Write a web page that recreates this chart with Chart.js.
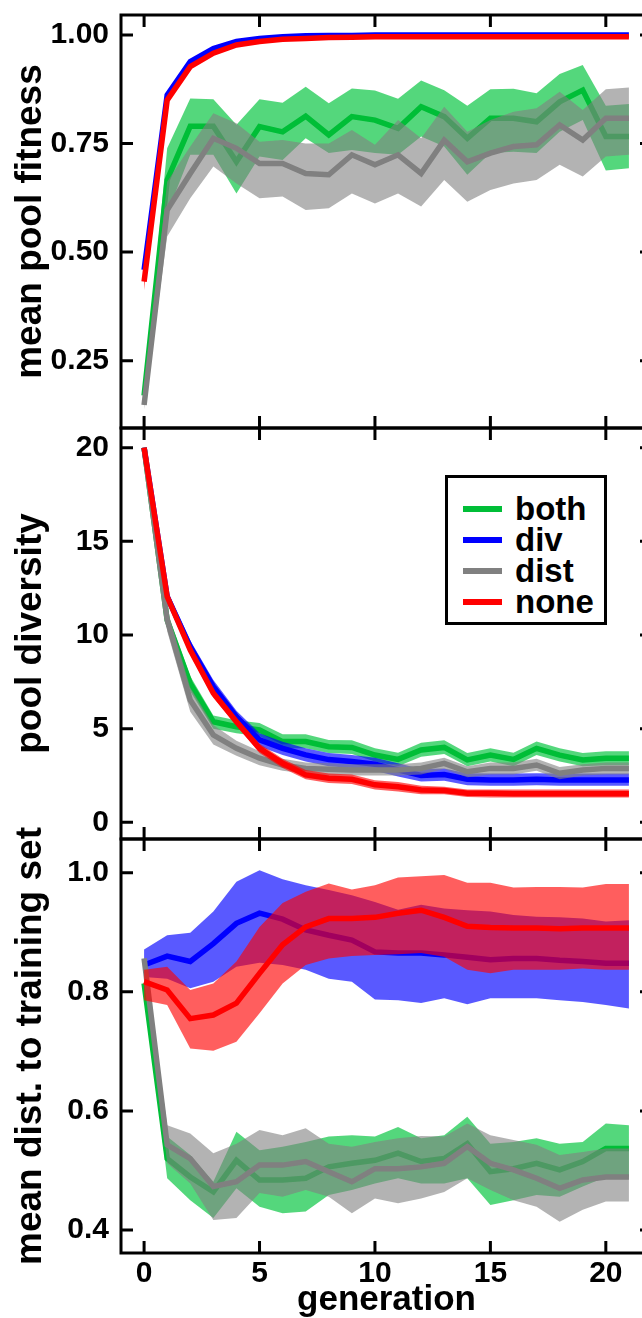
<!DOCTYPE html>
<html>
<head>
<meta charset="utf-8">
<script src="https://cdn.jsdelivr.net/npm/chart.js@4.4.0/dist/chart.umd.min.js"></script>
<style>
  html, body { margin: 0; padding: 0; background: #fff; }
  body { width: 642px; height: 1318px; overflow: hidden; position: relative; }
  canvas { position: absolute; left: 0; top: 0; }
  #legend {
    position: absolute; left: 445px; top: 475px; width: 162px;
    box-sizing: border-box; border: 3px solid #000; background: #fff;
    padding: 15px 0 5px 15px;
    font: bold 33px "Liberation Sans", Arial, sans-serif; color: #000;
  }
  #legend .row { height: 31px; display: flex; align-items: center; }
  #legend .swatch { width: 39px; height: 6px; margin-right: 13px; }
</style>
</head>
<body>
<canvas id="fitChart" width="660" height="1318"></canvas>
<canvas id="divChart" width="660" height="1318"></canvas>
<canvas id="distChart" width="660" height="1318"></canvas>
<div id="legend"></div>
<script>
// ---- data ----
const generations = [0, 1, 2, 3, 4, 5, 6, 7, 8, 9, 10, 11, 12, 13, 14, 15, 16, 17, 18, 19, 20, 21];
const xTicks = [0, 5, 10, 15, 20];

const seriesLabels = ['both', 'div', 'dist', 'none'];
const lineColors = ['rgb(0,190,55)', 'rgb(0,0,255)', 'rgb(128,128,128)', 'rgb(255,0,0)'];
const bandColors = ['rgba(0,195,60,0.67)', 'rgba(0,0,255,0.65)', 'rgba(128,128,128,0.6)', 'rgba(255,0,0,0.63)'];

// mean pool fitness
const fitTicks = [0.25, 0.5, 0.75, 1.0];
const fitBothMean = [0.17, 0.666, 0.79, 0.79, 0.708, 0.789, 0.777, 0.813, 0.77, 0.812, 0.804, 0.785, 0.835, 0.812, 0.762, 0.808, 0.808, 0.8, 0.846, 0.873, 0.766, 0.766];
const fitBothLo = [0.16, 0.589, 0.724, 0.724, 0.635, 0.72, 0.712, 0.762, 0.728, 0.735, 0.728, 0.724, 0.766, 0.743, 0.678, 0.728, 0.731, 0.728, 0.777, 0.804, 0.688, 0.693];
const fitBothHi = [0.18, 0.739, 0.854, 0.852, 0.793, 0.852, 0.844, 0.881, 0.843, 0.877, 0.872, 0.853, 0.895, 0.873, 0.837, 0.875, 0.876, 0.866, 0.91, 0.931, 0.837, 0.841];
const fitDivMean = [0.459, 0.862, 0.939, 0.969, 0.985, 0.992, 0.996, 0.998, 0.999, 0.999, 1.0, 1.0, 1.0, 1.0, 1.0, 1.0, 1.0, 1.0, 1.0, 1.0, 1.0, 1.0];
const fitDivLo = [0.452, 0.858, 0.936, 0.967, 0.983, 0.991, 0.995, 0.997, 0.998, 0.998, 0.999, 0.999, 0.999, 0.999, 0.999, 0.999, 0.999, 0.999, 0.999, 0.999, 0.999, 0.999];
const fitDivHi = [0.466, 0.866, 0.942, 0.971, 0.987, 0.993, 0.997, 0.999, 1.0, 1.0, 1.0, 1.0, 1.0, 1.0, 1.0, 1.0, 1.0, 1.0, 1.0, 1.0, 1.0, 1.0];
const fitDistMean = [0.148, 0.597, 0.681, 0.762, 0.739, 0.704, 0.704, 0.681, 0.678, 0.724, 0.701, 0.724, 0.681, 0.758, 0.708, 0.728, 0.743, 0.747, 0.793, 0.758, 0.808, 0.808];
const fitDistLo = [0.138, 0.536, 0.624, 0.697, 0.658, 0.624, 0.628, 0.597, 0.601, 0.635, 0.612, 0.635, 0.605, 0.666, 0.616, 0.643, 0.658, 0.666, 0.701, 0.674, 0.72, 0.724];
const fitDistHi = [0.158, 0.662, 0.743, 0.82, 0.797, 0.754, 0.758, 0.75, 0.75, 0.781, 0.747, 0.804, 0.762, 0.835, 0.777, 0.804, 0.823, 0.831, 0.869, 0.827, 0.875, 0.879];
const fitNoneMean = [0.432, 0.85, 0.927, 0.958, 0.977, 0.985, 0.99, 0.992, 0.994, 0.995, 0.996, 0.996, 0.996, 0.996, 0.996, 0.996, 0.996, 0.996, 0.996, 0.996, 0.996, 0.996];
const fitNoneLo = [0.412, 0.845, 0.923, 0.955, 0.975, 0.983, 0.988, 0.99, 0.992, 0.993, 0.994, 0.994, 0.994, 0.994, 0.994, 0.994, 0.994, 0.994, 0.994, 0.994, 0.994, 0.994];
const fitNoneHi = [0.45, 0.855, 0.931, 0.961, 0.979, 0.987, 0.992, 0.994, 0.996, 0.997, 0.998, 0.998, 0.998, 0.998, 0.998, 0.998, 0.998, 0.998, 0.998, 0.998, 0.998, 0.998];

// pool diversity
const divTicks = [0, 5, 10, 15, 20];
const divBothMean = [20, 10.8, 7.42, 5.37, 5.1, 4.93, 4.31, 4.31, 4.04, 4.0, 3.59, 3.36, 3.86, 4.0, 3.33, 3.59, 3.36, 3.95, 3.59, 3.33, 3.42, 3.42];
const divBothLo = [20, 10.4, 7.0, 5.0, 4.75, 4.6, 3.95, 3.95, 3.7, 3.65, 3.25, 3.0, 3.5, 3.65, 3.0, 3.25, 3.0, 3.6, 3.25, 3.0, 3.05, 3.05];
const divBothHi = [20, 11.2, 7.8, 5.7, 5.45, 5.3, 4.7, 4.7, 4.4, 4.38, 3.95, 3.72, 4.25, 4.38, 3.7, 3.95, 3.72, 4.32, 3.95, 3.7, 3.8, 3.8];
const divDivMean = [20, 12.05, 9.38, 7.24, 5.64, 4.4, 3.95, 3.6, 3.35, 3.25, 3.1, 2.8, 2.5, 2.55, 2.3, 2.26, 2.26, 2.3, 2.26, 2.26, 2.26, 2.26];
const divDivLo = [20, 11.7, 9.0, 6.9, 5.3, 4.05, 3.6, 3.25, 3.0, 2.9, 2.75, 2.45, 2.18, 2.22, 1.98, 1.95, 1.95, 1.98, 1.95, 1.95, 1.95, 1.95];
const divDivHi = [20, 12.4, 9.7, 7.6, 5.95, 4.75, 4.3, 3.95, 3.7, 3.6, 3.45, 3.15, 2.85, 2.88, 2.62, 2.6, 2.6, 2.62, 2.6, 2.6, 2.6, 2.6];
const divDistMean = [20, 10.8, 6.53, 4.66, 3.95, 3.42, 3.06, 2.88, 2.83, 2.79, 2.79, 2.79, 2.88, 3.15, 2.7, 2.88, 2.88, 3.06, 2.62, 2.79, 2.88, 2.88];
const divDistLo = [20, 10.2, 5.9, 4.15, 3.55, 3.05, 2.75, 2.6, 2.5, 2.5, 2.5, 2.5, 2.55, 2.85, 2.4, 2.55, 2.55, 2.75, 2.3, 2.5, 2.55, 2.55];
const divDistHi = [20, 11.4, 7.2, 5.2, 4.35, 3.8, 3.4, 3.2, 3.15, 3.1, 3.1, 3.1, 3.2, 3.45, 3.0, 3.2, 3.2, 3.4, 2.95, 3.1, 3.2, 3.2];
const divNoneMean = [20, 12.05, 9.2, 6.89, 5.37, 3.95, 3.15, 2.53, 2.35, 2.3, 2.0, 1.9, 1.73, 1.7, 1.55, 1.55, 1.53, 1.53, 1.53, 1.53, 1.53, 1.53];
const divNoneLo = [20, 11.8, 8.95, 6.65, 5.15, 3.7, 2.9, 2.3, 2.1, 2.05, 1.75, 1.65, 1.5, 1.5, 1.35, 1.33, 1.33, 1.33, 1.33, 1.33, 1.33, 1.33];
const divNoneHi = [20, 12.3, 9.45, 7.1, 5.6, 4.2, 3.4, 2.8, 2.6, 2.55, 2.25, 2.15, 1.95, 1.9, 1.75, 1.75, 1.75, 1.75, 1.75, 1.75, 1.75, 1.75];

// mean dist. to training set
const distTicks = [0.4, 0.6, 0.8, 1.0];
const distBothMean = [0.814, 0.52, 0.489, 0.464, 0.517, 0.484, 0.484, 0.487, 0.506, 0.512, 0.517, 0.529, 0.515, 0.52, 0.545, 0.498, 0.503, 0.512, 0.501, 0.515, 0.537, 0.537];
const distBothLo = [0.809, 0.487, 0.45, 0.42, 0.47, 0.439, 0.428, 0.431, 0.459, 0.467, 0.478, 0.487, 0.478, 0.478, 0.487, 0.442, 0.45, 0.459, 0.456, 0.473, 0.489, 0.489];
const distBothHi = [0.82, 0.557, 0.526, 0.481, 0.565, 0.534, 0.54, 0.548, 0.557, 0.559, 0.557, 0.573, 0.554, 0.559, 0.59, 0.545, 0.548, 0.554, 0.545, 0.548, 0.579, 0.576];
const distDivMean = [0.845, 0.86, 0.851, 0.881, 0.915, 0.932, 0.922, 0.904, 0.895, 0.887, 0.867, 0.865, 0.865, 0.862, 0.858, 0.854, 0.856, 0.856, 0.853, 0.851, 0.848, 0.848];
const distDivLo = [0.825, 0.822, 0.806, 0.817, 0.842, 0.849, 0.845, 0.837, 0.822, 0.817, 0.787, 0.786, 0.781, 0.789, 0.779, 0.789, 0.789, 0.789, 0.786, 0.783, 0.778, 0.772];
const distDivHi = [0.871, 0.895, 0.899, 0.935, 0.985, 1.004, 0.989, 0.979, 0.971, 0.962, 0.951, 0.938, 0.946, 0.94, 0.937, 0.935, 0.929, 0.926, 0.925, 0.923, 0.918, 0.92];
const distDistMean = [0.856, 0.543, 0.52, 0.473, 0.481, 0.509, 0.509, 0.515, 0.498, 0.481, 0.503, 0.503, 0.506, 0.512, 0.54, 0.512, 0.501, 0.487, 0.47, 0.484, 0.489, 0.489];
const distDistLo = [0.851, 0.512, 0.478, 0.417, 0.42, 0.462, 0.456, 0.467, 0.456, 0.428, 0.453, 0.445, 0.453, 0.464, 0.487, 0.467, 0.45, 0.439, 0.414, 0.434, 0.448, 0.448];
const distDistHi = [0.859, 0.576, 0.562, 0.529, 0.545, 0.568, 0.559, 0.571, 0.545, 0.54, 0.548, 0.554, 0.558, 0.557, 0.579, 0.559, 0.551, 0.543, 0.526, 0.531, 0.537, 0.537];
const distNoneMean = [0.817, 0.803, 0.755, 0.761, 0.781, 0.831, 0.879, 0.909, 0.923, 0.923, 0.925, 0.932, 0.937, 0.925, 0.91, 0.908, 0.907, 0.907, 0.906, 0.907, 0.907, 0.907];
const distNoneLo = [0.786, 0.778, 0.705, 0.701, 0.716, 0.764, 0.814, 0.845, 0.856, 0.86, 0.862, 0.863, 0.865, 0.859, 0.837, 0.831, 0.837, 0.837, 0.837, 0.839, 0.837, 0.837];
const distNoneHi = [0.837, 0.842, 0.803, 0.814, 0.851, 0.909, 0.949, 0.968, 0.982, 0.972, 0.979, 0.992, 0.994, 0.996, 0.983, 0.983, 0.975, 0.976, 0.976, 0.975, 0.981, 0.981];

// ---- drawing ----
Chart.defaults.color = '#000';
Chart.defaults.font.family = '"Liberation Sans", Arial, sans-serif';
Chart.defaults.font.weight = 'bold';

// frame round the plot area plus inward tick marks on all four sides
const framePlugin = {
  id: 'frame',
  afterDraw(chart, args, opts) {
    const { ctx, chartArea: a, scales: { x, y } } = chart;
    ctx.save();
    ctx.strokeStyle = '#000';
    ctx.lineWidth = 3;
    ctx.strokeRect(a.left, a.top, a.right - a.left, a.bottom - a.top);
    ctx.beginPath();
    xTicks.forEach(v => {
      const px = x.getPixelForValue(v);
      ctx.moveTo(px, a.top); ctx.lineTo(px, a.top + 12);
      ctx.moveTo(px, a.bottom); ctx.lineTo(px, a.bottom - 12);
    });
    opts.yTicks.forEach(v => {
      const py = y.getPixelForValue(v);
      ctx.moveTo(a.left, py); ctx.lineTo(a.left + 12, py);
      ctx.moveTo(a.right, py); ctx.lineTo(a.right - 12, py);
    });
    ctx.stroke();
    ctx.restore();
  }
};

function points(arr) {
  return arr.map((v, i) => ({ x: generations[i], y: v }));
}

function buildDatasets(means, los, his) {
  const ds = [];
  means.forEach((mean, i) => {
    const base = 100 - i * 10; // lower order is painted on top
    ds.push({ label: seriesLabels[i] + ' lo', data: points(los[i]), borderWidth: 0, borderColor: 'rgba(0,0,0,0)', pointRadius: 0, fill: false, order: base });
    ds.push({ label: seriesLabels[i] + ' hi', data: points(his[i]), borderWidth: 0, borderColor: 'rgba(0,0,0,0)', pointRadius: 0, backgroundColor: bandColors[i], fill: '-1', order: base - 1 });
    ds.push({ label: seriesLabels[i], data: points(mean), borderColor: lineColors[i], borderWidth: 5.5, pointRadius: 0, fill: false, order: base - 2 });
  });
  return ds;
}

function makePanel(id, p) {
  const showX = !!p.xTitle;
  new Chart(document.getElementById(id), {
    type: 'line',
    data: { datasets: buildDatasets(p.means, p.los, p.his) },
    options: {
      responsive: false,
      animation: false,
      events: [],
      layout: { padding: { left: 1, right: 8, top: p.top, bottom: p.bottom } },
      plugins: {
        legend: { display: false },
        tooltip: { enabled: false },
        filler: { drawTime: 'beforeDatasetDraw' },
        frame: { yTicks: p.yTicks }
      },
      scales: {
        x: {
          type: 'linear', min: -1, max: 22,
          display: showX,
          grid: { display: false, drawTicks: false },
          border: { display: false },
          afterBuildTicks: s => { s.ticks = xTicks.map(v => ({ value: v })); },
          afterFit: s => { s.height = showX ? 65 : 0; s.paddingLeft = 0; s.paddingRight = 0; },
          ticks: { padding: 3, font: { size: 30, weight: 'bold' }, maxRotation: 0 },
          title: { display: showX, text: p.xTitle || '', padding: 0, font: { size: 35, weight: 'bold', lineHeight: 1 } }
        },
        y: {
          type: 'linear', min: p.yMin, max: p.yMax,
          grid: { display: false, drawTicks: false },
          border: { display: false },
          afterBuildTicks: s => { s.ticks = p.yTicks.map(v => ({ value: v })); },
          afterFit: s => { s.width = 120; s.paddingTop = 0; s.paddingBottom = 0; },
          ticks: { padding: 12, font: { size: 30, weight: 'bold' }, callback: v => v.toFixed(p.digits) },
          title: { display: true, text: p.yTitle, padding: { top: 11, bottom: 0 }, font: { size: 37, weight: 'bold', lineHeight: 1 } }
        }
      }
    },
    plugins: [framePlugin]
  });
}

makePanel('fitChart', {
  top: 15, bottom: 1318 - 428, yMin: 0.095, yMax: 1.046, yTicks: fitTicks, digits: 2,
  yTitle: 'mean pool fitness',
  means: [fitBothMean, fitDivMean, fitDistMean, fitNoneMean],
  los: [fitBothLo, fitDivLo, fitDistLo, fitNoneLo],
  his: [fitBothHi, fitDivHi, fitDistHi, fitNoneHi]
});

makePanel('divChart', {
  top: 428, bottom: 1318 - 839, yMin: -0.89, yMax: 21.05, yTicks: divTicks, digits: 0,
  yTitle: 'pool diversity',
  means: [divBothMean, divDivMean, divDistMean, divNoneMean],
  los: [divBothLo, divDivLo, divDistLo, divNoneLo],
  his: [divBothHi, divDivHi, divDistHi, divNoneHi]
});

makePanel('distChart', {
  top: 839, bottom: 0, yMin: 0.3614, yMax: 1.0566, yTicks: distTicks, digits: 1,
  yTitle: 'mean dist. to training set', xTitle: 'generation',
  means: [distBothMean, distDivMean, distDistMean, distNoneMean],
  los: [distBothLo, distDivLo, distDistLo, distNoneLo],
  his: [distBothHi, distDivHi, distDistHi, distNoneHi]
});

// legend box inside the middle panel
const legend = document.getElementById('legend');
seriesLabels.forEach((name, i) => {
  const row = document.createElement('div');
  row.className = 'row';
  const sw = document.createElement('span');
  sw.className = 'swatch';
  sw.style.background = lineColors[i];
  const txt = document.createElement('span');
  txt.textContent = name;
  row.appendChild(sw);
  row.appendChild(txt);
  legend.appendChild(row);
});
</script>
</body>
</html>
